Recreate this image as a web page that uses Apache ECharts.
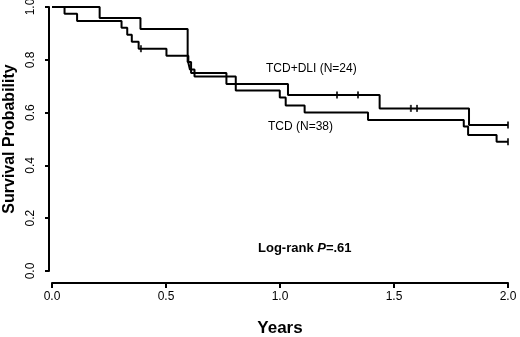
<!DOCTYPE html>
<html>
<head>
<meta charset="utf-8">
<script src="https://cdn.jsdelivr.net/npm/echarts@6/dist/echarts.min.js"></script>
<style>
  html, body { margin: 0; padding: 0; background: #fff; }
  #chart { width: 520px; height: 337px; }
</style>
</head>
<body>
<div id="chart"></div>
<script>
// step points: [time, survival after the drop at that time]
const dliTimes = [0, 0.209, 0.388, 0.595, 0.61, 0.765, 1.035, 1.437, 1.829, 2.0]
const dliSurv = [1.0, 0.958, 0.917, 0.792, 0.75, 0.708, 0.667, 0.616, 0.553, 0.553]
const dliCensorT = [1.25, 1.342, 1.574, 1.601, 2.0]
const dliCensorS = [0.667, 0.667, 0.616, 0.616, 0.553]

const tcdTimes = [0, 0.055, 0.11, 0.305, 0.33, 0.35, 0.38, 0.502, 0.598, 0.605, 0.625, 0.806, 0.999, 1.025, 1.108, 1.386, 1.806, 1.825, 1.95, 2.0]
const tcdSurv = [1.0, 0.974, 0.947, 0.921, 0.895, 0.868, 0.842, 0.815, 0.789, 0.763, 0.737, 0.684, 0.657, 0.627, 0.6, 0.572, 0.547, 0.515, 0.49, 0.49]
const tcdCensorT = [0.39, 2.0]
const tcdCensorS = [0.842, 0.49]

const xTicks = [0, 0.5, 1.0, 1.5, 2.0]
const yTicks = [0, 0.2, 0.4, 0.6, 0.8, 1.0]

const zip = (a, b) => a.map((v, i) => [v, b[i]])
const font = 'Liberation Sans, Arial, sans-serif'

const chart = echarts.init(document.getElementById('chart'))
const lineStyle = { color: '#000', width: 2 }

chart.setOption({
  animation: false,
  grid: { left: 52, right: 12, top: 7, bottom: 66, containLabel: false, outerBoundsMode: 'none' },
  xAxis: {
    type: 'value',
    min: xTicks[0],
    max: xTicks[xTicks.length - 1],
    interval: 0.5,
    offset: 12,
    name: 'Years',
    nameLocation: 'middle',
    nameGap: 37,
    nameTextStyle: { fontFamily: font, fontWeight: 'bold', fontSize: 17, color: '#000' },
    axisLine: { show: true, onZero: false, lineStyle: { color: '#000', width: 2 } },
    axisTick: { show: true, length: 5, lineStyle: { color: '#000', width: 2 } },
    axisLabel: { margin: 8, fontFamily: font, fontSize: 12, color: '#000', formatter: v => v.toFixed(1) },
    splitLine: { show: false }
  },
  yAxis: {
    type: 'value',
    min: yTicks[0],
    max: yTicks[yTicks.length - 1],
    interval: 0.2,
    offset: 3,
    name: 'Survival Probability',
    nameLocation: 'middle',
    nameGap: 31,
    nameRotate: 90,
    nameTextStyle: { fontFamily: font, fontWeight: 'bold', fontSize: 16, color: '#000' },
    axisLine: { show: true, onZero: false, lineStyle: { color: '#000', width: 2 } },
    axisTick: { show: true, length: 4, lineStyle: { color: '#000', width: 2 } },
    axisLabel: { rotate: 90, margin: 12, fontFamily: font, fontSize: 12, color: '#000', formatter: v => v.toFixed(1) },
    splitLine: { show: false }
  },
  series: [
    {
      name: 'TCD+DLI (N=24)',
      type: 'line',
      step: 'end',
      showSymbol: false,
      lineStyle: lineStyle,
      data: zip(dliTimes, dliSurv)
    },
    {
      name: 'TCD (N=38)',
      type: 'line',
      step: 'end',
      showSymbol: false,
      lineStyle: lineStyle,
      data: zip(tcdTimes, tcdSurv)
    },
    {
      type: 'scatter',
      symbol: 'rect',
      symbolSize: [2, 7],
      itemStyle: { color: '#000' },
      data: zip(dliCensorT, dliCensorS).concat(zip(tcdCensorT, tcdCensorS))
    }
  ],
  graphic: [
    {
      type: 'text', left: 266, top: 63,
      style: { text: 'TCD+DLI (N=24)', font: '12px ' + font, fill: '#000' }
    },
    {
      type: 'text', left: 268, top: 121,
      style: { text: 'TCD (N=38)', font: '12px ' + font, fill: '#000' }
    },
    {
      type: 'text', left: 258, top: 242,
      style: {
        text: '{a|Log-rank }{b|P}{a|=.61}',
        rich: {
          a: { fontFamily: font, fontWeight: 'bold', fontSize: 13, fill: '#000' },
          b: { fontFamily: font, fontWeight: 'bold', fontStyle: 'italic', fontSize: 13, fill: '#000' }
        }
      }
    }
  ]
})
</script>
</body>
</html>
